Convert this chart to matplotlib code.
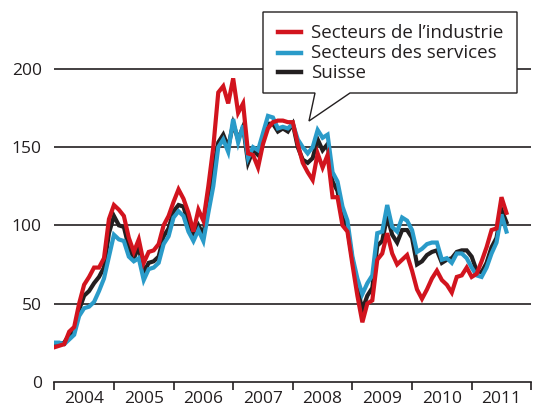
import numpy as np
import matplotlib
matplotlib.use('Agg')
import matplotlib.pyplot as plt
from matplotlib.lines import Line2D
from matplotlib.patches import Polygon

plt.rcParams['font.family'] = ['Open Sans', 'DejaVu Sans']

# monthly values, Jan 2004 .. Aug 2011
industrie = [22, 23, 24, 32, 35, 50, 62, 67, 73, 73, 79, 104,
             113, 110, 106, 92, 83, 91, 76, 83, 84, 88, 100, 106,
             115, 123, 117, 108, 96, 110, 103, 125, 150, 185, 189, 178,
             194, 172, 178, 146, 145, 137, 152, 162, 166, 167, 167, 166,
             166, 152, 140, 134, 129, 146, 137, 145, 118, 118, 100, 96,
             75, 55, 38, 50, 52, 78, 82, 95, 82, 75, 78, 81,
             71, 59, 53, 59, 66, 71, 65, 62, 57, 67, 68, 73,
             67, 69, 77, 86, 97, 98, 118, 108]
services = [25, 25, 24, 27, 30, 42, 47, 48, 51, 58, 66, 80,
            94, 91, 90, 80, 77, 79, 65, 72, 73, 76, 88, 93,
            105, 109, 106, 96, 90, 97, 90, 108, 125, 150, 155, 147,
            168, 153, 164, 143, 150, 148, 159, 170, 169, 162, 163, 162,
            165, 155, 150, 146, 150, 161, 156, 158, 134, 128, 112, 103,
            80, 66, 56, 63, 68, 95, 96, 113, 99, 96, 105, 103,
            97, 83, 85, 88, 89, 89, 78, 79, 76, 82, 82, 79,
            73, 68, 67, 73, 82, 89, 107, 96]
suisse = [23, 24, 25, 30, 33, 46, 55, 58, 63, 67, 73, 95,
          106, 100, 99, 86, 79, 86, 70, 76, 77, 80, 93, 98,
          109, 113, 112, 101, 93, 100, 94, 115, 136, 153, 158, 150,
          165, 155, 163, 140, 148, 145, 156, 165, 165, 160, 162, 160,
          165, 150, 142, 140, 143, 155, 148, 152, 128, 122, 105, 98,
          78, 60, 46, 55, 60, 87, 90, 106, 94, 89, 97, 97,
          92, 75, 77, 81, 83, 84, 76, 78, 79, 83, 84, 84,
          80, 71, 70, 76, 86, 92, 110, 102]
labels = ['Secteurs de l\u2019industrie', 'Secteurs des services', 'Suisse']
years = [2004, 2005, 2006, 2007, 2008, 2009, 2010, 2011]

RED = '#d2141e'
BLUE = '#2a9bc9'
BLACK = '#231f20'
W, H = 539, 409

t = 2004 + np.arange(len(suisse)) / 12.0

fig = plt.figure(figsize=(W / 100, H / 100), dpi=100)
ax = fig.add_axes([54.3 / W, 27.3 / H, 477 / W, (381.7 - 10) / H])
ymax = (381.7 - 10) / 1.5635
ax.set_ylim(0, ymax)
ax.set_xlim(2004, 2012)

for v in [50, 100, 150, 200]:
    ax.axhline(v, color=BLACK, lw=1.2, zorder=1)

ax.plot(t, suisse, color=BLACK, lw=3.0, zorder=3, solid_joinstyle='miter')
ax.plot(t, services, color=BLUE, lw=3.0, zorder=4, solid_joinstyle='miter')
ax.plot(t, industrie, color=RED, lw=3.0, zorder=5, solid_joinstyle='miter')

for s in ['top', 'right', 'left']:
    ax.spines[s].set_visible(False)
ax.spines['bottom'].set_color(BLACK)
ax.spines['bottom'].set_linewidth(1.2)

ax.set_yticks([0, 50, 100, 150, 200])
ax.tick_params(axis='y', length=0, pad=9, labelsize=12.5, colors=BLACK)
ax.set_xticks(range(2004, 2013))
ax.set_xticklabels([])
ax.set_xticks([y + 0.5 for y in years], minor=True)
ax.set_xticklabels([str(y) for y in years], minor=True)
ax.tick_params(axis='x', which='major', length=6, width=1.2, color=BLACK, direction='out')
ax.tick_params(axis='x', which='minor', length=0, pad=7, labelsize=12.5, labelcolor=BLACK)

# callout legend box
def fx(x):
    return x / W

def fy(y):
    return 1 - y / H

box = [(263, 12), (517, 12), (517, 93), (350, 93), (309, 121), (315, 93), (263, 93)]
fig.add_artist(Polygon([(fx(x), fy(y)) for x, y in box], closed=True,
                       facecolor='white', edgecolor=BLACK, lw=1.0,
                       transform=fig.transFigure, zorder=10))
for lab, col, yy in zip(labels, [RED, BLUE, BLACK], [32, 52.5, 72]):
    fig.add_artist(Line2D([fx(278), fx(301)], [fy(yy), fy(yy)], color=col, lw=3.2,
                          transform=fig.transFigure, zorder=11))
    fig.text(fx(311), fy(yy + 1), lab, fontsize=13.5, color=BLACK, va='center',
             ha='left', zorder=12)

fig.savefig('out.png', dpi=100)
